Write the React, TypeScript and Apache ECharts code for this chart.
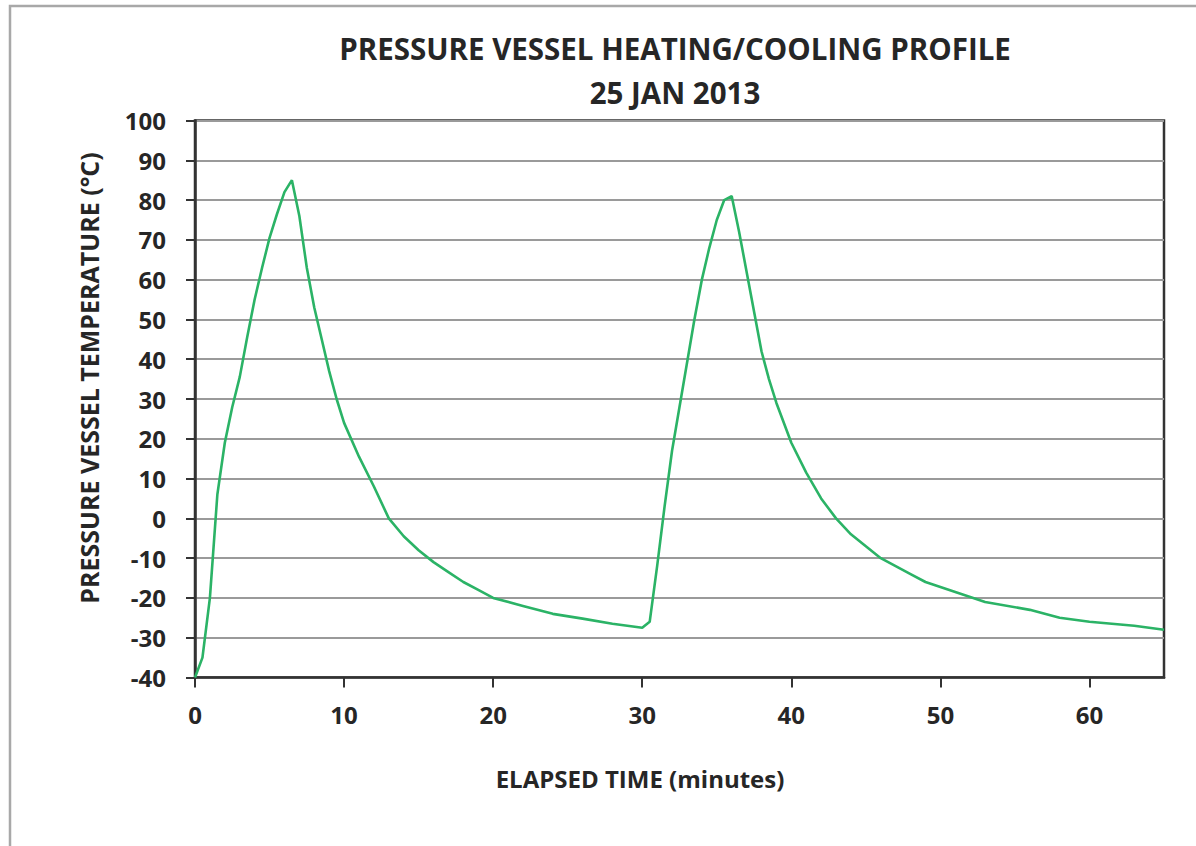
import React, { useEffect, useRef } from "react";
import * as echarts from "echarts";

const TITLE_LINE_1 = "PRESSURE VESSEL HEATING/COOLING PROFILE";
const TITLE_LINE_2 = "25 JAN 2013";
const X_NAME = "ELAPSED TIME (minutes)";
const Y_NAME = "PRESSURE VESSEL TEMPERATURE (°C)";

const X_TICKS = [0, 10, 20, 30, 40, 50, 60];

const timeMinutes = [
  0, 0.5, 1, 1.5, 2, 2.5, 3, 3.5, 4, 4.5, 5, 5.5, 6, 6.5,
  7, 7.5, 8, 8.5, 9, 9.5, 10, 11, 12, 13, 14, 15, 16, 17, 18, 19, 20,
  22, 24, 26, 28, 30,
  30.5, 31, 31.5, 32, 32.5, 33, 33.5, 34, 34.5, 35, 35.5, 36,
  36.5, 37, 37.5, 38, 38.5, 39, 40, 41, 42, 43, 44, 45, 46, 47, 48, 49,
  51, 53, 56, 58, 60, 63, 65,
];

const temperatureC = [
  -40, -35, -20, 6, 19, 28, 35.5, 45.5, 55, 63, 70.5, 76.5, 82, 85,
  76, 63, 53, 45, 37, 30, 24, 15.5, 8, 0, -4.5, -8, -11, -13.5, -16, -18, -20,
  -22, -24, -25.2, -26.5, -27.5,
  -26, -12, 3, 17, 28, 39, 50, 60, 68, 75, 80, 81,
  72, 62, 52, 42, 35, 29, 19, 11.5, 5, 0, -4, -7, -10, -12, -14, -16,
  -18.5, -21, -23, -25, -26, -27, -28,
];

const FONT = "'Open Sans', 'DejaVu Sans', sans-serif";
const TEXT_COLOR = "#262626";

export default function App() {
  const ref = useRef<HTMLDivElement>(null);

  useEffect(() => {
    if (!ref.current) return;
    const chart = echarts.init(ref.current, undefined, { renderer: "svg" });
    const data = timeMinutes.map((t, i) => [t, temperatureC[i]]);

    chart.setOption({
      animation: false,
      backgroundColor: "#ffffff",
      grid: {
        left: 195,
        top: 120.5,
        right: 32,
        bottom: 168.5,
        show: true,
        borderColor: "#333333",
        borderWidth: 2.5,
        backgroundColor: "transparent",
      },
      xAxis: {
        type: "value",
        min: 0,
        max: 65,
        interval: 10,
        axisLine: { show: true, onZero: false, lineStyle: { color: "#333333", width: 2.5 } },
        axisTick: {
          show: true,
          inside: false,
          length: 10,
          customValues: X_TICKS,
          lineStyle: { color: "#333333", width: 2 },
        },
        axisLabel: {
          customValues: X_TICKS,
          margin: 25,
          fontFamily: FONT,
          fontWeight: "bold",
          fontSize: 24,
          color: TEXT_COLOR,
        },
        splitLine: { show: false },
      },
      yAxis: {
        type: "value",
        min: -40,
        max: 100,
        interval: 10,
        axisLine: { show: true, lineStyle: { color: "#333333", width: 2.5 } },
        axisTick: { show: true, inside: false, length: 9, lineStyle: { color: "#333333", width: 2 } },
        axisLabel: {
          margin: 29,
          fontFamily: FONT,
          fontWeight: "bold",
          fontSize: 24,
          color: TEXT_COLOR,
        },
        splitLine: { show: true, lineStyle: { color: "#9a9a9a", width: 2 } },
      },
      series: [
        {
          type: "line",
          data,
          symbol: "none",
          smooth: false,
          lineStyle: { color: "#2bb366", width: 2.6 },
        },
      ],
      graphic: [
        {
          type: "rect",
          shape: { x: 10, y: 6, width: 1200, height: 860 },
          style: { fill: "none", stroke: "#a8a8a8", lineWidth: 2.5 },
          silent: true,
        },
        {
          type: "text",
          x: 675,
          y: 48,
          style: {
            text: TITLE_LINE_1,
            fontFamily: FONT,
            fontWeight: "bold",
            fontSize: 29.5,
            fill: TEXT_COLOR,
            align: "center",
            verticalAlign: "middle",
          },
        },
        {
          type: "text",
          x: 675,
          y: 92,
          style: {
            text: TITLE_LINE_2,
            fontFamily: FONT,
            fontWeight: "bold",
            fontSize: 29.5,
            fill: TEXT_COLOR,
            align: "center",
            verticalAlign: "middle",
          },
        },
        {
          type: "text",
          x: 640,
          y: 778,
          style: {
            text: X_NAME,
            fontFamily: FONT,
            fontWeight: "bold",
            fontSize: 24,
            fill: TEXT_COLOR,
            align: "center",
            verticalAlign: "middle",
          },
        },
        {
          type: "text",
          x: 89,
          y: 378,
          rotation: Math.PI / 2,
          style: {
            text: Y_NAME,
            fontFamily: FONT,
            fontWeight: "bold",
            fontSize: 25,
            fill: TEXT_COLOR,
            align: "center",
            verticalAlign: "middle",
          },
        },
      ],
    });

    return () => chart.dispose();
  }, []);

  return (
    <div
      ref={ref}
      style={{ position: "absolute", left: 0, top: 0, width: 1196, height: 846 }}
    />
  );
}
